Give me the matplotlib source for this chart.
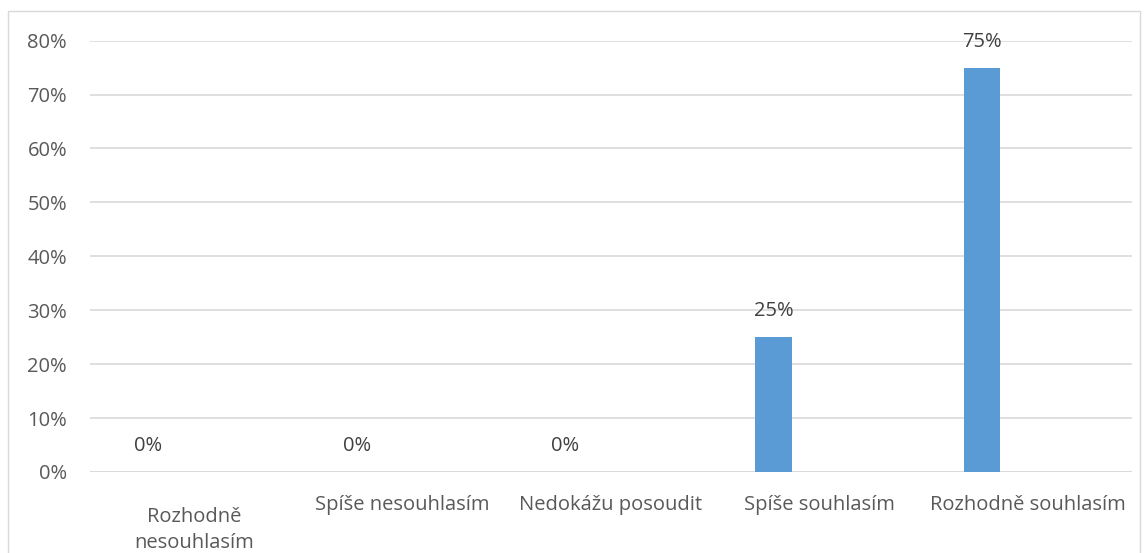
import numpy as np
import matplotlib.pyplot as plt
from matplotlib.patches import Rectangle

categories = ["Rozhodně\nnesouhlasím", "Spíše nesouhlasím", "Nedokážu posoudit",
              "Spíše souhlasím", "Rozhodně souhlasím"]
values = [0, 0, 0, 25, 75]
yticks = [0, 10, 20, 30, 40, 50, 60, 70, 80]

plt.rcParams['font.family'] = ['Open Sans', 'DejaVu Sans']
FS = 14.5

fig = plt.figure(figsize=(11.48, 5.53), dpi=100)
ax = fig.add_axes([0.0784, 0.1465, 0.9076, 0.78])

x = np.arange(len(categories))
offset = -0.22
bars = ax.bar(x + offset, values, width=0.175, color='#5B9BD5', zorder=3)

for xi, v in zip(x, values):
    ax.annotate(f"{v}%", (xi + offset, v), xytext=(0, 18.5), textcoords='offset points',
                ha='center', va='center', fontsize=FS, color='#404040')

ax.set_xlim(-0.5, len(categories) - 0.5)
ax.set_ylim(0, 80)
ax.set_yticks(yticks)
ax.set_yticklabels([f"{t}%" for t in yticks])
ax.set_xticks(x)
ax.set_xticklabels([])

# category labels: Excel-style wrapping, baseline of first line sits lower on wrapped labels
for xi, lab in zip(x, categories):
    lines = lab.split("\n")
    first = 27.4 if len(lines) == 1 else 36.0
    for j, line in enumerate(lines):
        ax.annotate(line, (xi, 0), xycoords=('data', 'axes fraction'),
                    xytext=(0, -(first + j * 18.7)), textcoords='offset points',
                    ha='center', va='baseline', fontsize=FS, color='#595959')

ax.yaxis.grid(True, color='#D9D9D9', linewidth=1.2, zorder=0)
ax.tick_params(axis='both', length=0, labelsize=FS, labelcolor='#595959')
ax.tick_params(axis='y', pad=16.5)
for s in ax.spines.values():
    s.set_visible(False)
ax.axhline(0, color='#D9D9D9', linewidth=1.2, zorder=1)

fig.patches.append(Rectangle((8 / 1148, -0.01), 1132 / 1148, 1 - 11 / 553 + 0.01,
                             transform=fig.transFigure, fill=False,
                             edgecolor='#D9D9D9', linewidth=1))

fig.savefig("out.png", dpi=100)
